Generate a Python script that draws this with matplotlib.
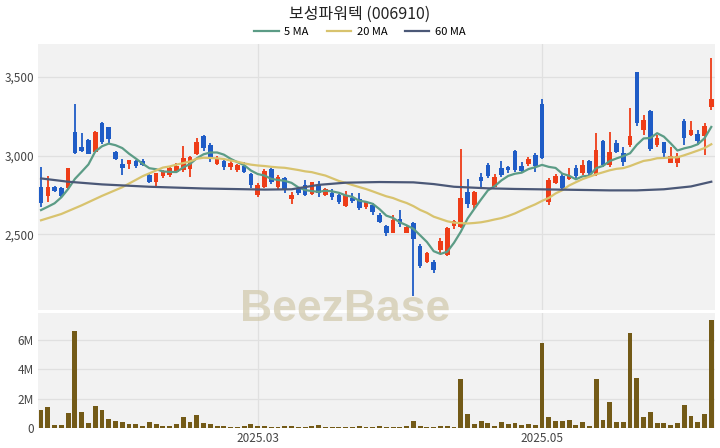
import numpy as np
import pandas as pd
import matplotlib
matplotlib.use("Agg")
import matplotlib.pyplot as plt
from matplotlib.ticker import FuncFormatter
from matplotlib.lines import Line2D

plt.rcParams['font.family'] = ['Noto Sans CJK KR', 'DejaVu Sans']

### données (index = séance)
title = "보성파워텍 (006910)"

opens = [2799, 2744, 2799, 2797, 2797, 3152, 3057, 3100, 3025, 3206,
         3184, 3025, 2947, 2947, 2968, 2968, 2877, 2835, 2871, 2877,
         2898, 2909, 2914, 3009, 3127, 3068, 2947, 2968, 2926, 2909,
         2935, 2882, 2750, 2803, 2914, 2803, 2856, 2723, 2787, 2814,
         2755, 2814, 2750, 2765, 2750, 2682, 2733, 2723, 2672, 2687,
         2623, 2554, 2511, 2598, 2511, 2575, 2427, 2327, 2327, 2401,
         2369, 2554, 2545, 2771, 2687, 2867, 2941, 2803, 2920, 2930,
         3030, 2935, 2945, 3004, 3326, 2708, 2825, 2871, 2850, 2924,
         2892, 2966, 2877, 3095, 2941, 3083, 3015, 3068, 3530, 3163,
         3286, 3068, 3085, 2956, 2956, 3222, 3131, 3138, 3125, 3311]
highs = [2930, 2871, 2807, 2803, 2924, 3328, 3142, 3104, 3157, 3213,
         3184, 3030, 2977, 2973, 2973, 2979, 2888, 2892, 2909, 2930,
         2952, 3062, 3000, 3110, 3133, 3079, 3000, 2979, 2968, 2947,
         2958, 2892, 2825, 2915, 2920, 2877, 2863, 2771, 2803, 2846,
         2835, 2841, 2793, 2787, 2760, 2778, 2765, 2761, 2708, 2698,
         2638, 2560, 2623, 2655, 2560, 2581, 2440, 2390, 2338, 2475,
         2545, 2592, 3041, 2850, 2776, 2888, 2952, 2884, 2966, 2935,
         3036, 2962, 2990, 3015, 3358, 2856, 2884, 2884, 2920, 2941,
         2973, 2973, 3142, 3100, 3152, 3100, 3053, 3301, 3533, 3258,
         3290, 3131, 3089, 3057, 3019, 3231, 3222, 3163, 3210, 3618]
lows = [2672, 2708, 2771, 2730, 2789, 3011, 3025, 3009, 3022, 3076,
        3083, 2973, 2877, 2916, 2925, 2935, 2825, 2806, 2860, 2867,
        2888, 2898, 2867, 3004, 3028, 2962, 2941, 2909, 2909, 2898,
        2888, 2797, 2736, 2792, 2822, 2786, 2761, 2691, 2750, 2744,
        2750, 2740, 2745, 2722, 2695, 2676, 2700, 2655, 2660, 2623,
        2570, 2492, 2507, 2549, 2507, 2109, 2287, 2320, 2257, 2380,
        2363, 2533, 2539, 2666, 2660, 2793, 2861, 2799, 2867, 2892,
        2898, 2898, 2935, 2898, 2977, 2687, 2820, 2782, 2846, 2856,
        2877, 2877, 2871, 2930, 2930, 3019, 2935, 3057, 3189, 3131,
        3030, 3057, 2990, 2952, 2930, 3068, 3125, 3068, 3004, 3290]
closes = [2698, 2803, 2778, 2744, 2920, 3019, 3030, 3011, 3152, 3089,
          3104, 2979, 2920, 2973, 2935, 2941, 2835, 2888, 2903, 2920,
          2936, 2984, 2994, 3085, 3047, 2994, 2984, 2926, 2952, 2941,
          2898, 2814, 2814, 2905, 2835, 2863, 2786, 2750, 2761, 2750,
          2831, 2761, 2787, 2740, 2704, 2750, 2712, 2666, 2704, 2640,
          2581, 2507, 2592, 2566, 2545, 2469, 2300, 2380, 2274, 2458,
          2539, 2585, 2729, 2693, 2767, 2839, 2871, 2863, 2877, 2909,
          2909, 2905, 2977, 2935, 2984, 2846, 2871, 2793, 2871, 2871,
          2941, 2888, 3036, 2941, 3025, 3025, 2962, 3125, 3210, 3227,
          3041, 3114, 3015, 2998, 2998, 3110, 3163, 3095, 3189, 3358]
volumes_m = [1.26, 1.45, 0.23, 0.23, 1.03, 6.6, 1.08, 0.37, 1.49, 1.26,
             0.64, 0.46, 0.39, 0.25, 0.25, 0.16, 0.39, 0.28, 0.16, 0.16,
             0.28, 0.76, 0.39, 0.90, 0.34, 0.28, 0.16, 0.16, 0.09, 0.09,
             0.16, 0.28, 0.16, 0.16, 0.09, 0.09, 0.16, 0.16, 0.09, 0.09,
             0.16, 0.20, 0.09, 0.09, 0.09, 0.09, 0.09, 0.14, 0.09, 0.09,
             0.16, 0.09, 0.05, 0.05, 0.14, 0.51, 0.16, 0.09, 0.09, 0.16,
             0.16, 0.09, 3.36, 0.99, 0.30, 0.48, 0.34, 0.14, 0.39, 0.25,
             0.37, 0.18, 0.28, 0.23, 5.82, 0.76, 0.51, 0.51, 0.53, 0.18,
             0.39, 0.14, 3.38, 0.57, 1.75, 0.41, 0.41, 6.51, 3.41, 0.78,
             1.10, 0.37, 0.37, 0.23, 0.37, 1.56, 0.83, 0.41, 0.94, 7.40]

# début des moyennes mobiles (historique hors graphique)
ma5_head = [2655, 2676, 2698, 2736]
ma20_head_idx = [0, 3, 6, 9, 12, 15, 18]
ma20_head = [2590, 2630, 2685, 2745, 2800, 2870, 2925]
ma60_idx = [0, 4, 9, 16, 24, 33, 37, 41, 45, 50, 55, 58, 61, 66, 70, 78, 84, 88, 92, 96, 99]
ma60 = [2856, 2835, 2818, 2803, 2792, 2785, 2787, 2815, 2829, 2833, 2831, 2820,
        2803, 2793, 2789, 2784, 2780, 2780, 2787, 2805, 2835]

tick_idx = [32, 74]
tick_labels = ["2025.03", "2025.05"]

### préparation
df = pd.DataFrame({'open': opens, 'high': highs, 'low': lows, 'close': closes,
                   'vol': np.array(volumes_m) * 1e6})
x = np.arange(len(df))
up = df['close'] >= df['open']
colors = np.where(up, '#ee3d18', '#1f5cc6')

ma5 = df['close'].rolling(5).mean().values
ma5[:4] = ma5_head
ma20_full = df['close'].rolling(20).mean().values
x20 = list(ma20_head_idx) + list(range(19, len(df)))
y20 = list(ma20_head) + list(ma20_full[19:])

c5, c20, c60 = '#5c9c86', '#d8c36e', '#4b5877'

### figure
W, H = 720, 448
fig = plt.figure(figsize=(W / 100, H / 100), dpi=100)
ax = fig.add_axes([38 / W, 1 - 310 / H, (715 - 38) / W, (310 - 44) / H])
axv = fig.add_axes([38 / W, 1 - 428 / H, (715 - 38) / W, (428 - 313) / H])

for a in (ax, axv):
    a.set_facecolor('#f2f2f2')
    for s in a.spines.values():
        s.set_visible(False)
    a.set_xlim(-0.45, 99.55)
    a.grid(True, color='#e0e0e0', linewidth=0.9)
    a.set_axisbelow(True)
    a.set_xticks(tick_idx)
    a.tick_params(length=0, labelsize=8.5, labelcolor='#444444', pad=3)

# bougies
body_lo = np.minimum(df['open'], df['close'])
body_h = np.maximum(np.abs(df['close'] - df['open']), 4)
ax.vlines(x, df['low'], df['high'], color=colors, linewidth=1.3, zorder=2)
ax.bar(x, body_h, bottom=body_lo, width=0.68, color=colors, zorder=3)

ax.plot(x, ma5, color=c5, linewidth=1.6, zorder=4)
ax.plot(x20, y20, color=c20, linewidth=1.6, zorder=4)
ax.plot(ma60_idx, ma60, color=c60, linewidth=1.6, zorder=4)

ax.set_ylim(2020, 3710)
ax.set_yticks([2500, 3000, 3500])
ax.yaxis.set_major_formatter(FuncFormatter(lambda v, p: f"{int(v):,}"))
ax.set_xticklabels([])

# volume
axv.bar(x, df['vol'], width=0.72, color='#735a17', zorder=3)
axv.set_ylim(0, 7.86e6)
axv.set_yticks([0, 2e6, 4e6, 6e6])
axv.yaxis.set_major_formatter(FuncFormatter(lambda v, p: "0" if v == 0 else f"{int(v / 1e6)}M"))
axv.set_xticklabels(tick_labels)

# titre, légende, filigrane
fig.text(0.5, 1 - 14 / H, title, ha='center', va='center', fontsize=11.5, color='#222222')
handles = [Line2D([], [], color=c, linewidth=1.6) for c in (c5, c20, c60)]
fig.legend(handles, ["5 MA", "20 MA", "60 MA"], loc='center', ncol=3,
           bbox_to_anchor=(0.5, 1 - 32 / H), frameon=False, fontsize=8,
           handlelength=2.2, columnspacing=1.6, handletextpad=0.5)
fig.text(345 / W, 1 - 309 / H, "BeezBase", ha='center', va='center',
         fontsize=32, fontweight='bold', family='Liberation Sans',
         color='#d3cbae', alpha=0.75, zorder=10)

fig.savefig("out.png", dpi=100)
